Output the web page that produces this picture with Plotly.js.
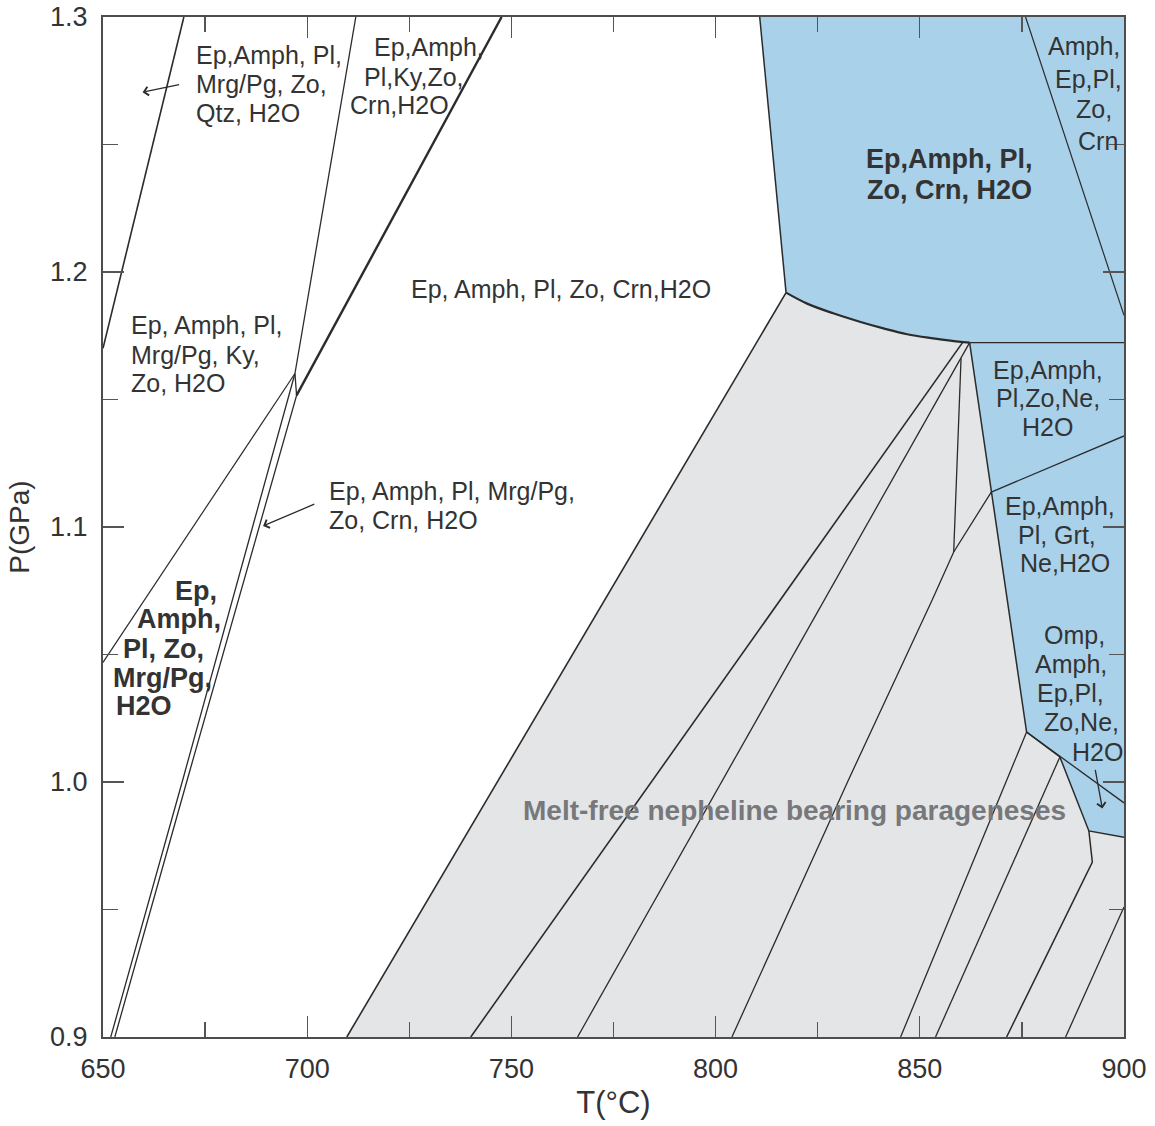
<!DOCTYPE html>
<html><head><meta charset="utf-8">
<script src="https://cdn.plot.ly/plotly-3.0.1.min.js"></script>
<style>body{margin:0;background:#fff}#c{width:1155px;height:1126px}</style>
</head><body><div id="c"></div>
<script>
// ---- Phase boundaries (T in °C, P in GPa) ----
const lineA_T = [650, 669.8];           const lineA_P = [1.1701, 1.3];
const lineB_T = [711.9, 697.0];         const lineB_P = [1.3, 1.1602];
const lineC_T = [650, 697.0];           const lineC_P = [1.0469, 1.1602];
const dblLeft_T = [697.0, 669.5, 651.9];        const dblLeft_P = [1.1602, 1.0007, 0.9];
const dblRight_T = [697.0, 697.4, 670.6, 652.9]; const dblRight_P = [1.1602, 1.1516, 1.0007, 0.9];
const lineD_T = [697.4, 747.6];         const lineD_P = [1.1516, 1.3];

const meltLeft_T = [709.7, 817.25];     const meltLeft_P = [0.9, 1.1919];
const arc_T = [817.25, 822.4, 828.8, 835.5, 841.1, 846.9, 853.3, 857.5, 862.2];
const arc_P = [1.1919, 1.1876, 1.1838, 1.1804, 1.1779, 1.1756, 1.1740, 1.1731, 1.1723];
const blueLeft_T = [810.8, 817.25];     const blueLeft_P = [1.3, 1.1919];
const blueEdge_T = [862.2, 867.5, 876.15, 884.3, 891.4, 900];
const blueEdge_P = [1.1723, 1.1137, 1.0196, 1.0098, 0.9808, 0.9783];
const horiz_T = [862.2, 900];           const horiz_P = [1.1723, 1.1723];
const upperRight_T = [875.9, 900];      const upperRight_P = [1.3, 1.183];
const neLine_T = [867.5, 900];          const neLine_P = [1.1137, 1.1357];
const ompLine_T = [876.15, 900];        const ompLine_P = [1.0196, 0.9918];

const L1_T = [860.5, 740.05];           const L1_P = [1.1724, 0.9];
const L2_T = [862.2, 766.2];            const L2_P = [1.1723, 0.9];
const L3_T = [860.1, 858.3];            const L3_P = [1.1662, 1.0902];
const L4_T = [867.5, 858.3, 853.0, 832.5, 804.0]; const L4_P = [1.1137, 1.0902, 1.0713, 1.0007, 0.9];
const L5_T = [876.15, 845.3];           const L5_P = [1.0196, 0.9];
const L6_T = [884.3, 853.85];           const L6_P = [1.0098, 0.9];
const L7_T = [891.4, 892.25, 871.25];   const L7_P = [0.9808, 0.9686, 0.9];
const L8_T = [885.7, 900];              const L8_P = [0.9, 0.951];

// ---- Labels ----
const labText = [
 "Ep,Amph, Pl,","Mrg/Pg, Zo,","Qtz, H2O",
 "Ep,Amph,","Pl,Ky,Zo,","Crn,H2O",
 "Ep, Amph, Pl, Zo, Crn,H2O",
 "Ep, Amph, Pl,","Mrg/Pg, Ky,","Zo, H2O",
 "Ep, Amph, Pl, Mrg/Pg,","Zo, Crn, H2O",
 "Ep,","Amph,","Pl, Zo,","Mrg/Pg,","H2O",
 "Ep,Amph, Pl,","Zo, Crn, H2O",
 "Amph,","Ep,Pl,","Zo,","Crn",
 "Ep,Amph,","Pl,Zo,Ne,","H2O",
 "Ep,Amph,","Pl, Grt,","Ne,H2O",
 "Omp,","Amph,","Ep,Pl,","Zo,Ne,","H2O",
 "Melt-free nepheline bearing parageneses"
];
const labT = [
 672.5,672.5,672.5,
 716.0,713.65,710.2,
 725.2,
 656.5,656.5,656.5,
 705.1,705.1,
 678.1,679.1,674.9,676.9,667.1,
 857.3,857.3,
 890.1,891.2,892.55,893.7,
 881.3,881.3,881.3,
 884.4,883.65,885.5,
 887.8,886.9,886.8,889.6,893.55,
 819.4
];
const labP = [
 1.2850,1.2739,1.2622,
 1.2882,1.2765,1.2654,
 1.1932,
 1.1791,1.1674,1.1564,
 1.1140,1.1026,
 1.0750,1.0638,1.0520,1.0409,1.0299,
 1.2442,1.2320,
 1.2885,1.2758,1.2638,1.2513,
 1.1614,1.1504,1.1392,
 1.1082,1.0969,1.0860,
 1.0575,1.0464,1.0350,1.0234,1.0118,
 0.9889
];
const labAnchor = [
 'left','left','left',
 'left','left','left',
 'left',
 'left','left','left',
 'left','left',
 'right','right','right','right','right',
 'center','center',
 'center','center','center','center',
 'center','center','center',
 'center','center','center',
 'center','center','center','center','center',
 'center'
];
const labStyle = [
 0,0,0, 0,0,0, 0, 0,0,0, 0,0,
 1,1,1,1,1, 1,1,
 0,0,0,0, 0,0,0, 0,0,0, 0,0,0,0,0,
 2
];

// ---- Arrows: head and tail points ----
const arrowHeadT = [659.7, 689.2, 894.7];
const arrowHeadP = [1.2705, 1.1004, 0.9896];
const arrowTailT = [669.0, 702.1, 892.9];
const arrowTailP = [1.2736, 1.1092, 1.0053];

const xTicks = [650, 700, 750, 800, 850, 900];
const yTicks = [0.9, 1.0, 1.1, 1.2, 1.3];

const BLUE = '#a9d1ea', GRAY = '#e4e5e6', INK = '#2b2b2b';
const FONT = 'Liberation Sans, Arial, Helvetica, sans-serif';

function poly(T, P, color){
  return {x:T, y:P, type:'scatter', mode:'lines', fill:'toself', fillcolor:color,
          line:{width:0, color:color}, hoverinfo:'skip', showlegend:false};
}
function ln(T, P, w, shape){
  return {x:T, y:P, type:'scatter', mode:'lines', line:{color:INK, width:w, shape:shape||'linear'},
          hoverinfo:'skip', showlegend:false};
}

const grayT = meltLeft_T.concat(arc_T.slice(1), blueEdge_T.slice(1), [900]);
const grayP = meltLeft_P.concat(arc_P.slice(1), blueEdge_P.slice(1), [0.9]);
const blueUpT = blueLeft_T.concat(arc_T.slice(1), [900, 900]);
const blueUpP = blueLeft_P.concat(arc_P.slice(1), [1.1723, 1.3]);
const blueLowT = blueEdge_T.concat([900]);
const blueLowP = blueEdge_P.concat([1.1723]);

const traces = [
  poly(grayT, grayP, GRAY),
  poly(blueUpT, blueUpP, BLUE),
  poly(blueLowT, blueLowP, BLUE),
  ln(lineA_T, lineA_P, 1.6),
  ln(lineB_T, lineB_P, 1.3),
  ln(lineC_T, lineC_P, 1.2),
  ln(dblLeft_T, dblLeft_P, 1.3),
  ln(dblRight_T, dblRight_P, 1.3),
  ln(lineD_T, lineD_P, 2.4),
  ln(meltLeft_T, meltLeft_P, 1.6),
  ln(arc_T, arc_P, 2.2, 'spline'),
  ln(blueLeft_T, blueLeft_P, 1.5),
  ln(blueEdge_T, blueEdge_P, 1.5),
  ln(horiz_T, horiz_P, 1.2),
  ln(upperRight_T, upperRight_P, 1.2),
  ln(neLine_T, neLine_P, 1.3),
  ln(ompLine_T, ompLine_P, 1.3),
  ln(L1_T, L1_P, 1.6),
  ln(L2_T, L2_P, 1.3),
  ln(L3_T, L3_P, 1.3),
  ln(L4_T, L4_P, 1.3),
  ln(L5_T, L5_P, 1.3),
  ln(L6_T, L6_P, 1.3),
  ln(L7_T, L7_P, 1.5),
  ln(L8_T, L8_P, 1.3)
];

const annotations = labText.map((t, i) => {
  const st = labStyle[i];
  return {
    x: labT[i], y: labP[i], xref:'x', yref:'y', text: st ? '<b>'+t+'</b>' : t,
    showarrow:false, xanchor: labAnchor[i], yanchor:'middle',
    font:{family:FONT, size: st===0 ? 25 : (st===1 ? 27 : 28), color: st===2 ? '#77787b' : '#333333'},
    borderpad:0
  };
});
arrowHeadT.forEach((h, i) => {
  annotations.push({x:h, y:arrowHeadP[i], ax:arrowTailT[i], ay:arrowTailP[i],
    xref:'x', yref:'y', axref:'x', ayref:'y', text:'', showarrow:true,
    arrowhead:4, arrowsize:1.3, arrowwidth:1.3, arrowcolor:INK, standoff:0});
});

const axisCommon = {
  showgrid:false, zeroline:false, showline:true, linecolor:'#4d4d4d', linewidth:2,
  mirror:'ticks', ticks:'inside', ticklen:21, tickwidth:1.3, tickcolor:'#555555',
  tickfont:{family:FONT, size:27, color:'#333333'}
};

const layout = {
  width:1155, height:1126,
  margin:{l:103, r:31, t:17, b:89, pad:0},
  paper_bgcolor:'#ffffff', plot_bgcolor:'#ffffff',
  showlegend:false,
  xaxis: Object.assign({}, axisCommon, {
    range:[650, 900], tickvals:xTicks, ticklabelstandoff:7,
    minor:{ticks:'inside', ticklen:15, dtick:25, tickwidth:1.3, tickcolor:'#555555', showgrid:false},
    title:{text:'T(°C)', font:{family:FONT, size:31, color:'#333333'}, standoff:8}
  }),
  yaxis: Object.assign({}, axisCommon, {
    range:[0.9, 1.3], tickvals:yTicks, tickformat:'.1f', ticklabelstandoff:8,
    minor:{ticks:'inside', ticklen:15, dtick:0.05, tickwidth:1.3, tickcolor:'#555555', showgrid:false},
    title:{text:'P(GPa)', font:{family:FONT, size:28, color:'#333333'}, standoff:12}
  }),
  annotations: annotations
};

Plotly.newPlot('c', traces, layout, {staticPlot:true, displayModeBar:false});
</script></body></html>
